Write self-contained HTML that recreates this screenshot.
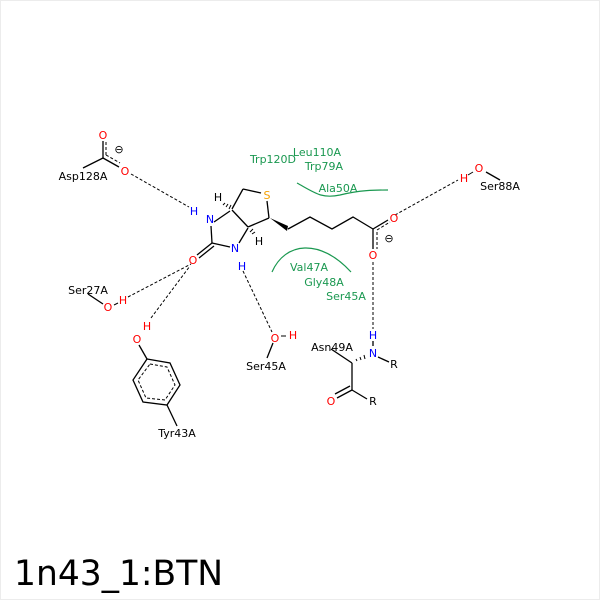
<!DOCTYPE html>
<html><head><meta charset="utf-8"><style>
html,body{margin:0;padding:0;background:#fff}
svg{display:block}
text{font-family:"DejaVu Sans","Liberation Sans",sans-serif;font-size:11px}
</style></head><body>
<svg width="600" height="600" viewBox="0 0 600 600">
<rect x="0.5" y="0.5" width="599" height="599" fill="#fff" stroke="#ececec"/>
<g stroke="#000" stroke-width="1.3" fill="none">
<line x1="214" y1="222" x2="230" y2="211"/>
<line x1="211" y1="226" x2="212" y2="243"/>
<line x1="212" y1="243" x2="230" y2="247"/>
<line x1="232" y1="210" x2="248" y2="227"/>
<line x1="239" y1="243" x2="248" y2="228"/>
<line x1="232" y1="209" x2="243" y2="189"/>
<line x1="243" y1="189" x2="261" y2="193"/>
<line x1="267" y1="201" x2="269" y2="218"/>
<line x1="248" y1="227" x2="269" y2="218"/>
<line x1="212" y1="243" x2="197" y2="255"/>
<line x1="214" y1="246" x2="199" y2="258"/>
<polyline points="288,229 310,217 332,229 353,217 373,229"/>
<line x1="373" y1="229" x2="388" y2="220"/>
<line x1="373" y1="229" x2="373" y2="249"/>
<line x1="103" y1="158" x2="83" y2="168"/>
<line x1="103" y1="158" x2="103" y2="141"/>
<line x1="103" y1="158" x2="119" y2="167"/>
<line x1="486" y1="172" x2="500" y2="180"/>
<line x1="88" y1="294" x2="103" y2="304"/>
<line x1="139" y1="345" x2="147" y2="359"/>
<polygon points="147,359 170,363 180,385 167,405 143,402 133,380"/>
<line x1="167" y1="405" x2="177" y2="426"/>
<line x1="273" y1="343" x2="267" y2="358"/>
<line x1="331" y1="349" x2="352" y2="363"/>
<line x1="352" y1="363" x2="352" y2="390"/>
<line x1="352" y1="390" x2="337" y2="398"/>
<line x1="350" y1="386" x2="335" y2="394"/>
<line x1="352" y1="390" x2="367" y2="399"/>
<line x1="378" y1="357" x2="389" y2="362"/>
<line x1="373" y1="341" x2="373" y2="346"/>
</g>
<g stroke="#000" stroke-width="1" fill="none" stroke-dasharray="3,2">
<line x1="106" y1="142" x2="106" y2="157"/>
<line x1="106" y1="155" x2="120" y2="163"/>
<line x1="377" y1="230" x2="390" y2="222"/>
<line x1="377" y1="232" x2="377" y2="249"/>
<polygon points="150,364 167,367 175,385 165,400 146,398 138,380"/>
<line x1="131" y1="174" x2="189" y2="207"/>
<line x1="395" y1="215" x2="458" y2="180"/>
<line x1="373" y1="262" x2="373" y2="329"/>
<line x1="128" y1="297" x2="191" y2="264"/>
<line x1="151" y1="318" x2="190" y2="266"/>
<line x1="243" y1="271" x2="272" y2="332"/>
</g>
<polygon points="270,218 288,226 287,231" fill="#000"/>
<g stroke="#000" stroke-width="1">
<line x1="223" y1="205" x2="225" y2="203"/><line x1="226" y1="207" x2="228" y2="204"/><line x1="229" y1="209" x2="231" y2="205"/>
<line x1="252" y1="234" x2="255" y2="232"/><line x1="250" y1="232" x2="253" y2="229"/>
<line x1="356" y1="359" x2="357" y2="361"/><line x1="360" y1="357" x2="361" y2="360"/><line x1="364" y1="355" x2="365" y2="359"/>
<line x1="281" y1="336" x2="286" y2="336"/><line x1="114" y1="305" x2="118" y2="303"/><line x1="468" y1="175" x2="473" y2="172"/>
</g>
<g stroke="#1a9850" stroke-width="1.2" fill="none">
<path d="M297,183 C315,193 322,199 340,195 C360,190 375,190 388,190"/>
<path d="M272,272 C285,242 320,238 351,272"/>
</g>
<g text-anchor="middle">
<text x="210" y="223" fill="#00f">N</text>
<text x="194" y="215" fill="#00f">H</text>
<text x="235" y="252" fill="#00f">N</text>
<text x="242" y="270" fill="#00f">H</text>
<text x="218" y="201" fill="#000">H</text>
<text x="259" y="245" fill="#000">H</text>
<text x="267" y="199" fill="#f5a000">S</text>
<text x="193" y="264" fill="#f00">O</text>
<text x="394" y="222" fill="#f00">O</text>
<text x="373" y="259" fill="#f00">O</text>
<text x="389" y="242" fill="#000">⊖</text>
<text x="103" y="139" fill="#f00">O</text>
<text x="125" y="175" fill="#f00">O</text>
<text x="119" y="153" fill="#000">⊖</text>
<text x="83" y="180" fill="#000">Asp128A</text>
<text x="464" y="182" fill="#f00">H</text>
<text x="479" y="172" fill="#f00">O</text>
<text x="500" y="190" fill="#000">Ser88A</text>
<text x="88" y="294" fill="#000">Ser27A</text>
<text x="108" y="311" fill="#f00">O</text>
<text x="123" y="304" fill="#f00">H</text>
<text x="147" y="330" fill="#f00">H</text>
<text x="137" y="343" fill="#f00">O</text>
<text x="177" y="437" fill="#000">Tyr43A</text>
<text x="275" y="342" fill="#f00">O</text>
<text x="293" y="339" fill="#f00">H</text>
<text x="266" y="370" fill="#000">Ser45A</text>
<text x="373" y="339" fill="#00f">H</text>
<text x="373" y="357" fill="#00f">N</text>
<text x="394" y="368" fill="#000">R</text>
<text x="332" y="351" fill="#000">Asn49A</text>
<text x="331" y="405" fill="#f00">O</text>
<text x="373" y="405" fill="#000">R</text>
<g fill="#1a9850">
<text x="273" y="163">Trp120D</text>
<text x="317" y="156">Leu110A</text>
<text x="324" y="170">Trp79A</text>
<text x="338" y="192">Ala50A</text>
<text x="309" y="271">Val47A</text>
<text x="324" y="286">Gly48A</text>
<text x="346" y="300">Ser45A</text>
</g>
</g>
<text x="14" y="585" style="font-size:34.5px" fill="#000">1n43_1:BTN</text>
</svg>
</body></html>
